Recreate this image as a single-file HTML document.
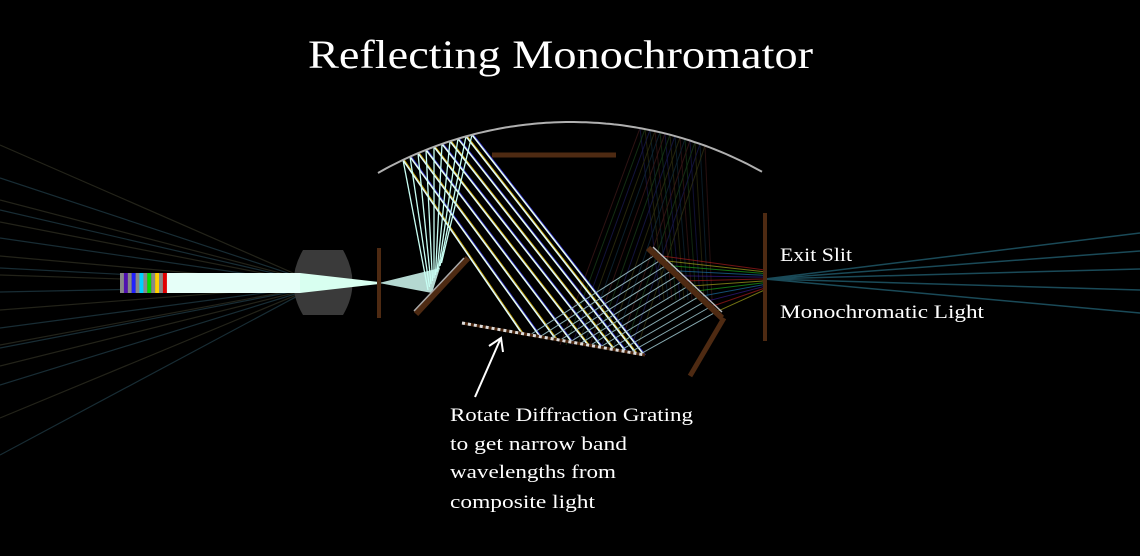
<!DOCTYPE html>
<html><head><meta charset="utf-8"><style>
html,body{margin:0;padding:0;background:#000;width:1140px;height:556px;overflow:hidden}
svg{display:block}
text{font-family:"Liberation Serif",serif;fill:#fff}
</style></head><body>
<svg id="c" width="1140" height="556" viewBox="0 0 1140 556">
<g id="bg"></g>
<text x="308" y="68" font-size="40" textLength="505" lengthAdjust="spacingAndGlyphs">Reflecting Monochromator</text>
<text x="780" y="261" font-size="19" textLength="72" lengthAdjust="spacingAndGlyphs">Exit Slit</text>
<text x="780" y="318" font-size="19" textLength="204" lengthAdjust="spacingAndGlyphs">Monochromatic Light</text>
<g font-size="19">
<text x="450" y="421" textLength="243" lengthAdjust="spacingAndGlyphs">Rotate Diffraction Grating</text>
<text x="450" y="450" textLength="177" lengthAdjust="spacingAndGlyphs">to get narrow band</text>
<text x="450" y="478" textLength="166" lengthAdjust="spacingAndGlyphs">wavelengths from</text>
<text x="450" y="508" textLength="145" lengthAdjust="spacingAndGlyphs">composite light</text>
</g>
</svg>
<script>
// ray endpoints
const leftFanY=[145,178,200,210,222,238,256,268,275,292,310,328,345,348,366,385,418,455];
const rightFanY=[233,251,269,290,313];
const arcHitX=[403,410,418,426,434,442,450,458,466,472];
const gratingHitX=[522,540,556,572,588,602,614,626,636,644];
const sourceColors=['#888','#5010b0','#888','#2020ff','#888','#00d0ff','#888','#00e000','#888','#ffd000','#888','#e00000'];
const bg=document.getElementById('bg');
const NS='http://www.w3.org/2000/svg';
function mk(tag,attrs,name){const e=document.createElementNS(NS,tag);for(const k in attrs)e.setAttribute(k,attrs[k]);


bg.appendChild(e);return e;}
function line(x1,y1,x2,y2,stroke,w,name,op){return mk('line',{x1,y1,x2,y2,stroke,'stroke-width':w,opacity:op==null?1:op},name);}
// concave mirror geometry
function arcY(x){const cx=571,r=391,top=122;return top+(r-Math.sqrt(r*r-(x-cx)*(x-cx)));}
// left faint fan
leftFanY.forEach((y,i)=>line(0,y,300,276+i*1.1,i%2?'#1e3842':'#2c2c20',1.2,'stray-ray-left',0.8));
// faint colored rays grating->arc
const faint=['#3a1818','#183a18','#18184a','#303010','#102838'];
for(let i=0;i<14;i++){line(560+i*6,345,640+i*5,arcY(640+i*5),faint[i%5],1,'faint-diffracted-ray',0.8);
line(640+i*5,arcY(640+i*5),660+i*4,300,faint[(i+2)%5],1,'faint-diffracted-ray',0.7);}
// lens
mk('path',{d:'M303,250 L343,250 Q362,283 343,315 L303,315 Q284,283 303,250 Z',fill:'#3a3a3a'},'lens');
// source beam
mk('rect',{x:166,y:273,width:134,height:20,fill:'#e6fff8'},'source-beam');
mk('polygon',{points:'300,273 379,282 379,284 300,293',fill:'#d8fff0'},'converging-beam');
sourceColors.forEach((c,i)=>mk('rect',{x:120+i*3.9,y:273,width:4,height:20,fill:c},'source-band'));
// diverging to flat mirror
mk('polygon',{points:'379,283 440,268 432,293',fill:'#c8f0e8',opacity:0.9},'diverging-beam');
// flat mirror rays to arc, then to grating
arcHitX.forEach((x,i)=>{const y=arcY(x);line(428+i*1.5,290-i*3,x,y,'#c8fff4',1.3,'ray-to-concave-mirror');
line(x,y,gratingHitX[i],323+(gratingHitX[i]-462)*0.175,'#e8fff8',1.6,'ray-to-grating');
line(x+1.5,y,gratingHitX[i]+1.5,323+(gratingHitX[i]-462)*0.175,i%2?'#4040ff':'#ffd000',0.6,'ray-fringe');});
// grating -> focusing mirror -> exit slit
for(let i=0;i<12;i++){const gx=530+i*10,gy=323+(gx-462)*0.175;const mx=655+i*5.5,my=255+i*5.2;
line(gx,gy,mx,my,'#9fc8d0',1,'diffracted-ray',0.85);
line(mx,my,765,270+i*1.8,['#c02020','#c0c020','#20c020','#2080c0','#4020a0'][i%5],1,'focused-ray',0.6);}
// right fan
rightFanY.forEach(y=>line(765,279,1140,y,'#1a4a58',1.5,'output-ray'));
// arc mirror
let d='M378,'+arcY(378).toFixed(1);for(let x=382;x<=764;x+=4)d+=' L'+x+','+arcY(x).toFixed(1);
mk('path',{d,fill:'none',stroke:'#b0b0b0','stroke-width':2},'concave-mirror');
// brown parts
const br='#4e2a12';
line(379,248,379,318,br,4,'entrance-slit');
line(416,314,468,258,br,6,'flat-mirror');line(414,311,464,258,'#aaa',1.5,'flat-mirror-surface');
line(492,155,616,155,br,5,'baffle');
line(462,323,645,355,br,3,'diffraction-grating');
mk('line',{x1:462,y1:323,x2:645,y2:355,stroke:'#ddd','stroke-width':3,'stroke-dasharray':'3 3'},'grating-rulings');
line(648,248,722,318,br,6,'focusing-mirror');line(653,247,722,312,'#bbb',1.5,'focusing-mirror-surface');
line(724,318,690,376,br,5,'side-baffle');
line(765,213,765,341,br,4,'exit-slit');
// arrow
line(475,397,500,340,'#fff',2,'annotation-arrow');
mk('polyline',{points:'489,346 501,338 503,352',fill:'none',stroke:'#fff','stroke-width':2},'arrow-head');
</script>
</body></html>
